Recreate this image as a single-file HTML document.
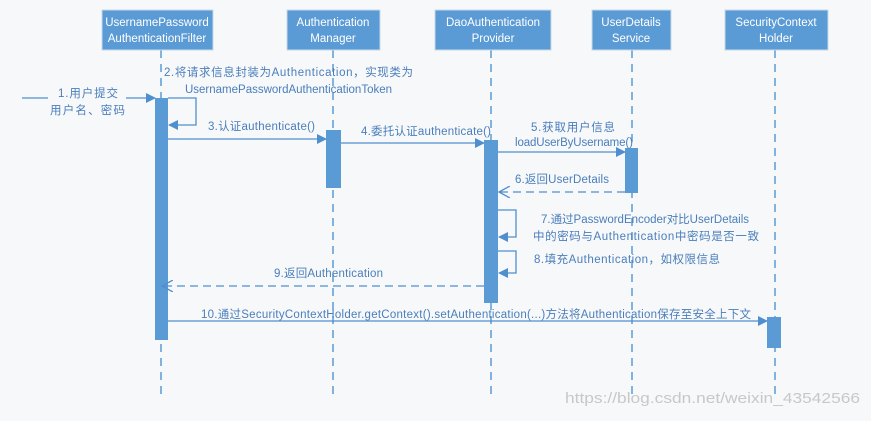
<!DOCTYPE html>
<html><head><meta charset="utf-8"><style>
body{margin:0;background:#f7f8fa;}
svg text{font-family:"Liberation Sans","Noto Sans CJK SC",sans-serif;}
</style></head><body>
<svg width="871" height="416" viewBox="0 0 871 416" xmlns="http://www.w3.org/2000/svg">
<rect width="871" height="416" fill="#f7f8fa"/>
<defs>
<marker id="a" markerWidth="10" markerHeight="10" refX="9" refY="5" orient="auto" markerUnits="userSpaceOnUse"><path d="M0,0 L10,5 L0,10 Z" fill="#4f8fcf"/></marker>
<marker id="o" markerWidth="12" markerHeight="12" refX="11" refY="6" orient="auto" markerUnits="userSpaceOnUse"><path d="M0,0 L11,6 L0,12" fill="none" stroke="#4f8fcf" stroke-width="1.3"/></marker>
</defs>
<g stroke="#5b9bd5" stroke-width="1.5" stroke-dasharray="8,6">
<line x1="161" y1="50" x2="161" y2="395"/><line x1="333" y1="50" x2="333" y2="395"/><line x1="491" y1="50" x2="491" y2="395"/><line x1="632" y1="50" x2="632" y2="395"/><line x1="775" y1="50" x2="775" y2="395"/>
</g>
<g fill="#5b9bd5" stroke="#c9d7e6" stroke-width="1">
<rect x="102" y="10" width="111" height="40"/><rect x="287" y="10" width="93" height="40"/><rect x="435" y="10" width="116" height="40"/><rect x="592" y="10" width="79" height="40"/><rect x="725" y="10" width="103" height="40"/>
</g>
<g fill="#fff" font-size="11.5" text-anchor="middle">
<text x="157" y="26">UsernamePassword</text><text x="157" y="42">AuthenticationFilter</text>
<text x="333" y="26">Authentication</text><text x="333" y="42">Manager</text>
<text x="493" y="26">DaoAuthentication</text><text x="493" y="42">Provider</text>
<text x="631" y="26">UserDetails</text><text x="631" y="42">Service</text>
<text x="776" y="26">SecurityContext</text><text x="776" y="42">Holder</text>
</g>
<g fill="#5b9bd5">
<rect x="155" y="98" width="13" height="242"/><rect x="326" y="130" width="15" height="58"/><rect x="484" y="140" width="14" height="163"/><rect x="625" y="148" width="13" height="45"/><rect x="767" y="317" width="14" height="31"/>
</g>
<g stroke="#4f8fcf" stroke-width="1.3" fill="none">
<line x1="22" y1="98" x2="48" y2="98"/><line x1="126" y1="98" x2="155" y2="98" marker-end="url(#a)"/>
<polyline points="168,98 196,98 196,125 169,125" marker-end="url(#a)"/>
<line x1="168" y1="139" x2="326" y2="139" marker-end="url(#a)"/>
<line x1="341" y1="143" x2="484" y2="143" marker-end="url(#a)"/>
<line x1="498" y1="152" x2="625" y2="152" marker-end="url(#a)"/>
<line x1="625" y1="192" x2="499" y2="192" stroke-dasharray="8,5" marker-end="url(#o)"/>
<polyline points="498,210 516,210 516,237 499,237" marker-end="url(#a)"/>
<polyline points="498,251 516,251 516,273 499,273" marker-end="url(#a)"/>
<line x1="484" y1="286" x2="162" y2="286" stroke-dasharray="8,5" marker-end="url(#o)"/>
<line x1="168" y1="321" x2="767" y2="321" marker-end="url(#a)"/>
</g>
<g fill="#4a7ebb" font-size="11.5" lengthAdjust="spacingAndGlyphs">
<text x="58" y="97" textLength="60">1.用户提交</text><text x="50" y="114" textLength="75">用户名、密码</text>
<text x="164" y="76" textLength="249">2.将请求信息封装为Authentication，实现类为</text><text x="185" y="93" textLength="207">UsernamePasswordAuthenticationToken</text>
<text x="208" y="130" textLength="107">3.认证authenticate()</text>
<text x="361" y="135" textLength="130">4.委托认证authenticate()</text>
<text x="531" y="131" textLength="84">5.获取用户信息</text><text x="515" y="146" textLength="118">loadUserByUsername()</text>
<text x="515" y="183" textLength="94">6.返回UserDetails</text>
<text x="541" y="223" textLength="208">7.通过PasswordEncoder对比UserDetails</text><text x="533" y="240" textLength="226">中的密码与Authentication中密码是否一致</text>
<text x="534" y="263" textLength="186">8.填充Authentication，如权限信息</text>
<text x="274" y="277" textLength="109">9.返回Authentication</text>
<text x="201" y="318" textLength="550">10.通过SecurityContextHolder.getContext().setAuthentication(...)方法将Authentication保存至安全上下文</text>
</g>
<text x="565" y="403" fill="#c8c8c8" font-size="15" textLength="295" lengthAdjust="spacingAndGlyphs">https://blog.csdn.net/weixin_43542566</text>
</svg>
</body></html>
